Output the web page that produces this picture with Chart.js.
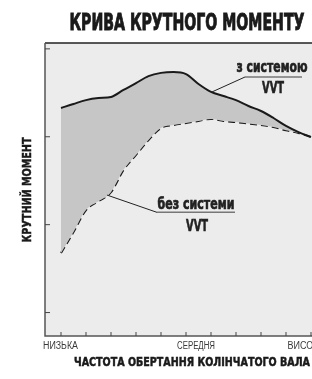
<!DOCTYPE html>
<html lang="uk">
<head>
  <meta charset="utf-8">
  <title>Крива крутного моменту</title>
  <script src="https://cdn.jsdelivr.net/npm/chart.js@4/dist/chart.umd.min.js"></script>
  <style>
    html, body { margin: 0; padding: 0; background: #fff; }
    .wrapper { width: 312px; height: 379px; }
  </style>
</head>
<body>
  <div class="wrapper">
    <canvas id="chart-0" width="312" height="379"></canvas>
  </div>

  <script>

    // engine speed (relative units, 0 = low, 10 = high)
    let rpm = [0, 0.5, 1, 1.5, 2, 2.5, 3, 3.5, 4, 4.5, 5, 5.5, 6, 6.5, 7, 7.5, 8, 8.5, 9, 9.5, 10];
    let withVVT    = [77.8, 79.2, 80.5, 81.2, 81.6, 84, 86.3, 88.7, 89.8, 90.1, 89.4, 86, 83.3, 81.9, 80.5, 78.5, 76.8, 74.4, 71.7, 69.6, 67.9];
    let withoutVVT = [28.3, 35.5, 43, 46, 49.1, 56.7, 61.8, 66.9, 71, 72, 72.7, 73.4, 74.1, 73.4, 73, 72.5, 72, 71.3, 70.2, 69.3, 67.9];

    let xTicks = [0, 1, 2, 3, 4, 5, 6, 7, 8, 9, 10];
    let yTicks = [8, 38, 68, 98];
    let speedLabels = ['НИЗЬКА', 'СЕРЕДНЯ', 'ВИСОКА'];
    let speedLabelPos = [-0.02, 5.4, 9.8];

    let condensed = '"Liberation Sans Narrow", "DejaVu Sans Condensed", "Roboto", sans-serif';

    function toPoints(ys) {
      return rpm.map((x, i) => ({x: x, y: ys[i]}));
    }

    // draw text squeezed to a given width (the original uses a condensed face)
    function fitText(ctx, text, cx, cy, font, width, color, heavy) {
      ctx.save();
      ctx.font = font;
      ctx.fillStyle = color || '#222';
      ctx.strokeStyle = color || '#222';
      ctx.textAlign = 'center';
      ctx.textBaseline = 'middle';
      let w = ctx.measureText(text).width;
      ctx.translate(cx, cy);
      ctx.scale(width / w, 1);
      ctx.fillText(text, 0, 0);
      if (heavy) {
        ctx.lineWidth = heavy;
        ctx.strokeText(text, 0, 0);
      }
      ctx.restore();
    }

    let decor = {
      id: 'decor',
      beforeDraw(chart) {
        let ctx = chart.ctx, a = chart.chartArea;
        ctx.save();
        ctx.fillStyle = '#ececec';
        ctx.fillRect(a.left, a.top, a.right - a.left, a.bottom - a.top);
        ctx.restore();
      },
      afterDraw(chart) {
        let ctx = chart.ctx, a = chart.chartArea;
        let xs = chart.scales.x, ys = chart.scales.y;
        let px = v => xs.getPixelForValue(v);
        let py = v => ys.getPixelForValue(v);

        ctx.save();
        // frame
        ctx.strokeStyle = '#222';
        ctx.lineWidth = 1.5;
        ctx.beginPath();
        ctx.moveTo(a.left, a.top);
        ctx.lineTo(a.right, a.top);
        ctx.stroke();
        ctx.strokeStyle = '#555';
        ctx.beginPath();
        ctx.moveTo(a.left, a.top);
        ctx.lineTo(a.left, a.bottom);
        ctx.lineTo(a.right, a.bottom);
        ctx.stroke();

        // inward ticks
        ctx.lineWidth = 1;
        ctx.strokeStyle = '#444';
        xTicks.forEach(function(t) {
          ctx.beginPath();
          ctx.moveTo(px(t), a.bottom);
          ctx.lineTo(px(t), a.bottom - 4);
          ctx.stroke();
        });
        yTicks.forEach(function(t) {
          ctx.beginPath();
          ctx.moveTo(a.left, py(t));
          ctx.lineTo(a.left + 5, py(t));
          ctx.stroke();
        });

        // callout for the upper curve
        ctx.strokeStyle = '#222';
        ctx.beginPath();
        ctx.moveTo(px(6.04), py(83.3));
        ctx.lineTo(px(7.36), py(88.4));
        ctx.stroke();
        ctx.strokeStyle = '#777';
        ctx.lineWidth = 1.5;
        ctx.beginPath();
        ctx.moveTo(px(7.36), py(88.4));
        ctx.lineTo(px(9.64), py(88.4));
        ctx.stroke();

        // callout for the lower curve
        ctx.lineWidth = 1;
        ctx.strokeStyle = '#222';
        ctx.beginPath();
        ctx.moveTo(px(1.84), py(48.1));
        ctx.lineTo(px(3.84), py(42.2));
        ctx.stroke();
        ctx.strokeStyle = '#777';
        ctx.lineWidth = 1.5;
        ctx.beginPath();
        ctx.moveTo(px(3.84), py(42.2));
        ctx.lineTo(px(6.96), py(42.2));
        ctx.stroke();
        ctx.restore();

        // speed labels
        let speedWidths = [35, 38, 37];
        speedLabels.forEach(function(lbl, i) {
          fitText(ctx, lbl, px(speedLabelPos[i]), a.bottom + 10, '10px "Liberation Sans", sans-serif', speedWidths[i], '#3a3a3a');
        });

        let bold = s => 'bold ' + s + 'px ' + condensed;
        fitText(ctx, 'з системою', px(8.44), py(91.3), bold(15), 71, '#222', 0.6);
        fitText(ctx, 'VVT', px(8.48), py(84.3), bold(16), 22, '#222', 0.6);
        fitText(ctx, 'без системи', px(5.4), py(44.6), bold(15), 77, '#222', 0.6);
        fitText(ctx, 'VVT', px(5.44), py(37.2), bold(16), 22, '#222', 0.6);

        // titles
        fitText(ctx, 'КРИВА КРУТНОГО МОМЕНТУ', 187, 24, bold(23), 235, '#1a1a1a', 0.9);
        fitText(ctx, 'ЧАСТОТА ОБЕРТАННЯ КОЛІНЧАТОГО ВАЛА', 192, 363, bold(13), 236, '#1a1a1a', 0.5);
        ctx.save();
        ctx.translate(28, 190);
        ctx.rotate(-Math.PI / 2);
        fitText(ctx, 'КРУТНИЙ МОМЕНТ', 0, 0, bold(13), 105, '#1a1a1a', 0.5);
        ctx.restore();
      }
    };

    let chart = new Chart('chart-0', {
      type: 'line',
      data: {
        datasets: [
          {
            label: 'з системою VVT',
            data: toPoints(withVVT),
            borderColor: '#1a1a1a',
            borderWidth: 2,
            backgroundColor: '#c6c6c6',
            fill: '+1',
            pointRadius: 0,
            cubicInterpolationMode: 'monotone'
          },
          {
            label: 'без системи VVT',
            data: toPoints(withoutVVT),
            borderColor: '#1a1a1a',
            borderWidth: 2,
            borderDash: [7, 4],
            fill: false,
            pointRadius: 0,
            cubicInterpolationMode: 'monotone'
          }
        ]
      },
      options: {
        responsive: false,
        animation: false,
        layout: {
          padding: {left: 45, right: 0, top: 43, bottom: 43}
        },
        plugins: {
          legend: {display: false},
          title: {display: false},
          tooltip: {enabled: false}
        },
        scales: {
          x: {type: 'linear', min: -0.64, max: 10.04, display: false},
          y: {min: 0, max: 100, display: false}
        }
      },
      plugins: [decor]
    });

  </script>
</body>
</html>
